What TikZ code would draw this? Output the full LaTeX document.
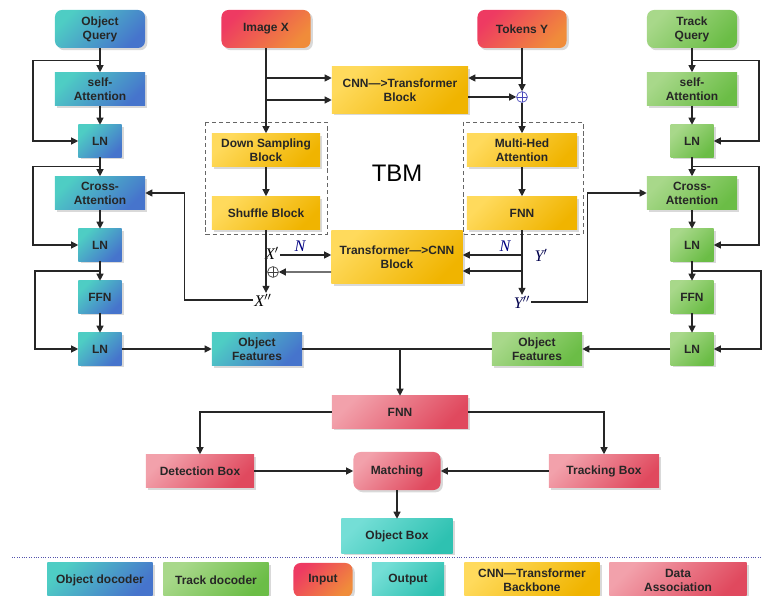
\documentclass[tikz,border=0pt]{standalone}
\usepackage{fontspec}
\setsansfont{Liberation Sans}
\newfontfamily\lblfont{Liberation Serif}
\usepackage{tikz}
\usetikzlibrary{arrows.meta, positioning, calc, shadows}

\definecolor{objA}{HTML}{4ECDC4}
\definecolor{objB}{HTML}{4674CC}
\definecolor{trkA}{HTML}{A8D88A}
\definecolor{trkB}{HTML}{6BBD46}
\definecolor{inA}{HTML}{EE3A62}
\definecolor{inB}{HTML}{F08C3A}
\definecolor{outA}{HTML}{74DED6}
\definecolor{outB}{HTML}{2EC1B1}
\definecolor{cnnA}{HTML}{FFDA5C}
\definecolor{cnnB}{HTML}{F0B400}
\definecolor{dasA}{HTML}{F2A1AB}
\definecolor{dasB}{HTML}{E0495E}

\tikzset{
    box/.style={align=center, inner sep=1pt, text=black!85,
        font=\sffamily\bfseries\fontsize{8.5}{10}\selectfont,
        drop shadow={shadow xshift=1.6pt, shadow yshift=-1.6pt, opacity=0.3}},
    objbox/.style={box, left color=objA, right color=objB, shading angle=45},
    trkbox/.style={box, left color=trkA, right color=trkB, shading angle=45},
    inbox/.style={box, left color=inA, right color=inB, shading angle=45, rounded corners=5pt},
    outbox/.style={box, left color=outA, right color=outB, shading angle=45},
    cnnbox/.style={box, left color=cnnA, right color=cnnB, shading angle=45},
    dasbox/.style={box, left color=dasA, right color=dasB, shading angle=45},
    wide/.style={minimum width=2.25cm, minimum height=0.825cm},
    narrow/.style={minimum width=1.075cm, minimum height=0.8cm},
    query/.style={rounded corners=5pt, minimum width=2.25cm, minimum height=0.95cm},
    line/.style={draw=black!85, line width=0.8pt},
    arr/.style={line, -{Triangle[length=5pt,width=5pt]}},
    sym/.style={font=\lblfont\itshape\fontsize{11.5}{11.5}\selectfont, inner sep=0.5pt},
    plus/.style={circle, draw, line width=0.5pt, minimum size=0.27cm, inner sep=0pt,
        path picture={\draw[line width=0.5pt] (path picture bounding box.north) -- (path picture bounding box.south)
            (path picture bounding box.west) -- (path picture bounding box.east);}},
    tbmframe/.style={draw=black!60, densely dashed, line width=0.6pt},
}

\begin{document}
\begin{tikzpicture}[x=0.025cm, y=-0.025cm]
    \useasboundingbox (0,0) rectangle (762,596);

    % TBM frames
    \draw[tbmframe] (205,122) rectangle (327,234);
    \draw[tbmframe] (463,122) rectangle (583,234);
    \node[font=\sffamily\fontsize{17}{17}\selectfont] (tbm) at (397,173) {TBM};

    % object decoder
    \node[objbox, query] (oq) at (100,29) {Object\\Query};
    \node[objbox, wide] (sa1) at (100,89) {self-\\Attention};
    \node[objbox, narrow] (ln1) at (100,141) {LN};
    \node[objbox, wide] (ca1) at (100,193) {Cross-\\Attention};
    \node[objbox, narrow] (ln2) at (100,245) {LN};
    \node[objbox, narrow] (ffn1) at (100,297) {FFN};
    \node[objbox, narrow] (ln3) at (100,349) {LN};
    \node[objbox, wide] (of1) at (257,349) {Object\\Features};

    % track decoder
    \node[trkbox, query] (tq) at (692,29) {Track\\Query};
    \node[trkbox, wide] (sa2) at (692,89) {self-\\Attention};
    \node[trkbox, narrow] (ln4) at (692,141) {LN};
    \node[trkbox, wide] (ca2) at (692,193) {Cross-\\Attention};
    \node[trkbox, narrow] (ln5) at (692,245) {LN};
    \node[trkbox, narrow] (ffn2) at (692,297) {FFN};
    \node[trkbox, narrow] (ln6) at (692,349) {LN};
    \node[trkbox, wide] (of2) at (537,349) {Object\\Features};

    % backbone
    \node[inbox, minimum width=2.225cm, minimum height=0.95cm] (imgx) at (266,29) {Image X};
    \node[inbox, minimum width=2.225cm, minimum height=0.95cm] (toky) at (522,29) {Tokens Y};
    \node[cnnbox, minimum width=3.4cm, minimum height=1.15cm] (c2t) at (400,90) {CNN—>Transformer\\Block};
    \node[cnnbox, minimum width=2.7cm, minimum height=0.825cm] (ds) at (266,150) {Down Sampling\\Block};
    \node[cnnbox, minimum width=2.7cm, minimum height=0.825cm] (sb) at (266,213) {Shuffle Block};
    \node[cnnbox, minimum width=2.75cm, minimum height=0.825cm] (mha) at (522,150) {Multi-Hed\\Attention};
    \node[cnnbox, minimum width=2.75cm, minimum height=0.825cm] (ffnm) at (522,213) {FNN};
    \node[cnnbox, minimum width=3.275cm, minimum height=1.325cm] (t2c) at (397,257) {Transformer—>CNN\\Block};
    \node[plus, draw=blue!45!gray, fill=white] (plusy) at (522,97) {};
    \node[plus, draw=black!75] (plusx) at (273,272) {};
    \node[sym] (xp) at (272,253) {X$'$};
    \node[sym] (xpp) at (263,300) {X$''$};
    \node[sym, text=blue!50!black] (nl) at (300,246) {N};
    \node[sym, text=blue!50!black] (nr) at (505,246) {N};
    \node[sym, text=blue!30!black] (yp) at (541,255) {Y$'$};
    \node[sym, text=blue!30!black] (ypp) at (522,302) {Y$''$};

    % data association
    \node[dasbox, minimum width=3.4cm, minimum height=0.8cm] (fnnd) at (400,412) {FNN};
    \node[dasbox, minimum width=2.7cm, minimum height=0.825cm] (det) at (200,471) {Detection Box};
    \node[dasbox, rounded corners=5pt, minimum width=2.175cm, minimum height=0.95cm] (match) at (397,471) {Matching};
    \node[dasbox, minimum width=2.75cm, minimum height=0.825cm] (trk) at (604,471) {Tracking Box};
    \node[outbox, minimum width=2.775cm, minimum height=0.85cm] (obox) at (397,536) {Object Box};

    % decoder connectors
    \draw[arr] (oq) -- (sa1);
    \draw[arr] (sa1) -- (ln1);
    \draw[arr] (ln1) -- (ca1);
    \draw[arr] (ca1) -- (ln2);
    \draw[arr] (ln2) -- (ffn1);
    \draw[arr] (ffn1) -- (ln3);
    \draw[arr] (ln3) -- (of1);
    \coordinate (k1) at ($(oq.south)!0.5!(sa1.north)$);
    \coordinate (k2) at ($(ln1.south)!0.5!(ca1.north)$);
    \coordinate (k3) at ($(ln2.south)!0.5!(ffn1.north)$);
    \draw[arr] (k1) -- ++(-67,0) |- (ln1);
    \draw[arr] (k2) -- ++(-67,0) |- (ln2);
    \draw[arr] (k3) -- ++(-65,0) |- (ln3);

    \draw[arr] (tq) -- (sa2);
    \draw[arr] (sa2) -- (ln4);
    \draw[arr] (ln4) -- (ca2);
    \draw[arr] (ca2) -- (ln5);
    \draw[arr] (ln5) -- (ffn2);
    \draw[arr] (ffn2) -- (ln6);
    \draw[arr] (ln6) -- (of2);
    \coordinate (k4) at ($(tq.south)!0.5!(sa2.north)$);
    \coordinate (k5) at ($(ln4.south)!0.5!(ca2.north)$);
    \coordinate (k6) at ($(ln5.south)!0.5!(ffn2.north)$);
    \draw[arr] (k4) -- ++(67,0) |- (ln4);
    \draw[arr] (k5) -- ++(67,0) |- (ln5);
    \draw[arr] (k6) -- ++(69,0) |- (ln6);

    % backbone connectors
    \coordinate (c2tw1) at ([yshift=0.3cm]c2t.west);
    \coordinate (c2tw2) at ([yshift=-0.25cm]c2t.west);
    \coordinate (c2te1) at ([yshift=0.3cm]c2t.east);
    \coordinate (t2cw1) at ([yshift=0.05cm]t2c.west);
    \coordinate (t2cw2) at ([yshift=-0.375cm]t2c.west);
    \coordinate (t2ce1) at ([yshift=0.05cm]t2c.east);
    \coordinate (t2ce2) at ([yshift=-0.35cm]t2c.east);
    \draw[arr] (imgx) -- (ds);
    \draw[arr] (imgx.south |- c2tw1) -- (c2tw1);
    \draw[arr] (imgx.south |- c2tw2) -- (c2tw2);
    \draw[arr] (toky) -- (plusy);
    \draw[arr] (toky.south |- c2te1) -- (c2te1);
    \draw[arr] (c2t.east |- plusy) -- (plusy);
    \draw[arr] (plusy) -- (mha);
    \draw[arr] (ds) -- (sb);
    \draw[arr] (mha) -- (ffnm);
    \draw[arr] (sb) -- (sb.south |- xpp.north);
    \draw[arr] (ffnm) -- (ffnm.south |- ypp.north);
    \draw[arr] (xp.east |- t2cw1) -- (t2cw1);
    \draw[arr] (t2cw2) -- (plusx);
    \draw[arr] (ffnm.south |- t2ce1) -- (t2ce1);
    \draw[arr] (ffnm.south |- t2ce2) -- (t2ce2);
    \draw[arr] (xpp.west) -- ++(-69,0) |- (ca1);
    \draw[arr] (ypp.east) -- ++(56,0) |- (ca2);

    % association connectors
    \coordinate (merge) at (fnnd.north |- of1);
    \draw[line] (of1) -- (of2);
    \draw[arr] (merge) -- (fnnd);
    \draw[arr] (fnnd) -| (det);
    \draw[arr] (fnnd) -| (trk);
    \draw[arr] (det) -- (match);
    \draw[arr] (trk) -- (match);
    \draw[arr] (match) -- (obox);

    % legend
    \draw[densely dotted, blue!35!gray, line width=0.7pt] (12,557) -- (762,557);
    \node[objbox, minimum width=2.625cm, minimum height=0.85cm] (lgobj) at (100,580) {Object docoder};
    \node[trkbox, minimum width=2.625cm, minimum height=0.85cm] (lgtrk) at (216,580) {Track docoder};
    \node[inbox, minimum width=1.475cm, minimum height=0.85cm] (lgin) at (323,580) {Input};
    \node[outbox, minimum width=1.8cm, minimum height=0.85cm] (lgout) at (408,580) {Output};
    \node[cnnbox, minimum width=3.375cm, minimum height=0.85cm] (lgcnn) at (532,580) {CNN—Transformer\\Backbone};
    \node[dasbox, minimum width=3.425cm, minimum height=0.85cm] (lgdas) at (678,580) {Data\\Association};
\end{tikzpicture}
\end{document}
